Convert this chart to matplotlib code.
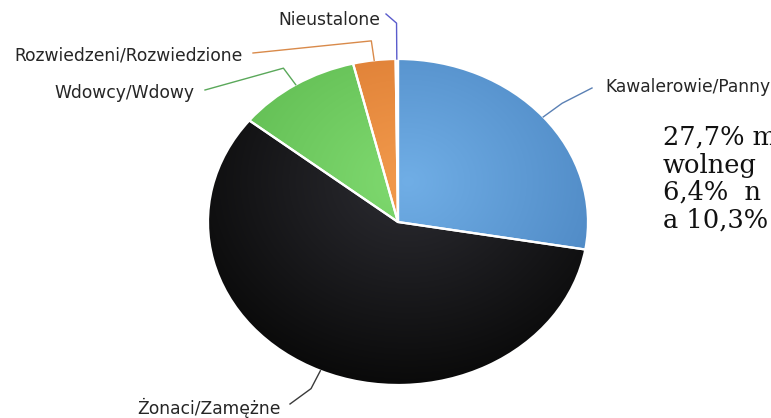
import numpy as np
import matplotlib
matplotlib.use("Agg")
import matplotlib.pyplot as plt
from matplotlib.colors import to_rgb

# data
labels = ["Kawalerowie/Panny", "Żonaci/Zamężne", "Wdowcy/Wdowy",
          "Rozwiedzeni/Rozwiedzione", "Nieustalone"]
shares = [27.7, 58.0, 10.5, 3.6, 0.2]

# light (centre) / dark (rim) shade of every slice
light = ["#70aee6", "#2c2c32", "#80da70", "#f29a4c", "#6266d8"]
dark = ["#4a84c0", "#0a0a0a", "#5cb84e", "#d8762e", "#4548b8"]
line_col = ["#5a80b4", "#3a3a3a", "#5aa85a", "#d98a4a", "#5a5ccc"]

# body text next to the chart (the picture cuts it at its right edge)
side_text = ["27,7% m", "wolneg", "6,4%  n", "a 10,3%"]

W, H = 771, 418
cx, cy = 398, 222      # pie centre, px from top-left
rx, ry = 190, 163      # half axes of the (squashed) pie, px

fig = plt.figure(figsize=(W / 100, H / 100), dpi=100)
ax = fig.add_axes([0, 0, 1, 1])
xlim = (-cx / rx, (W - cx) / rx)
ylim = (-(H - cy) / ry, cy / ry)


def px(x, y):
    # pixel (from top-left) -> data coords
    return (x - cx) / rx, (cy - y) / ry


wedges, _ = ax.pie(shares, colors=dark, startangle=90, counterclock=False,
                   radius=1, wedgeprops=dict(linewidth=0))
ax.set_aspect("auto")

# radial shading clipped to each slice
n = 400
gx, gy = np.meshgrid(np.linspace(-1, 1, n), np.linspace(1, -1, n))
hx, hy = 0.05, 0.25
dist = np.clip(np.hypot(gx - hx, gy - hy) / 1.25, 0, 1)
for w, lc, dc in zip(wedges, light, dark):
    a, b = np.array(to_rgb(lc)), np.array(to_rgb(dc))
    img = a[None, None, :] * (1 - dist[..., None]) + b[None, None, :] * dist[..., None]
    im = ax.imshow(img, extent=(-1, 1, -1, 1), aspect="auto", zorder=2,
                   interpolation="bilinear")
    im.set_clip_path(w)
    w.set_facecolor("none")
    w.set_edgecolor("white")
    w.set_linewidth(1.6)
    w.set_zorder(3)

# labels with leader lines
label_pos = [(605, 87, "left", (592, 88), 1.13),
             (281, 408, "right", (290, 404), 1.12),
             (194, 93, "right", (205, 90), 1.12),
             (243, 55, "right", (253, 53), 1.12),
             (380, 20, "right", (386, 14), 1.22)]
for w, lab, col, (tx, ty, ha, end, r2) in zip(wedges, labels, line_col, label_pos):
    mid = np.deg2rad((w.theta1 + w.theta2) / 2)
    p0 = (np.cos(mid), np.sin(mid))
    p1 = (r2 * np.cos(mid), r2 * np.sin(mid))
    p2 = px(*end)
    ax.plot([p0[0], p1[0], p2[0]], [p0[1], p1[1], p2[1]], color=col,
            lw=1.0, zorder=4, solid_joinstyle="round")
    x, y = px(tx, ty)
    ax.text(x, y, lab, ha=ha, va="center", fontsize=12.3, color="#262626",
            family="DejaVu Sans", zorder=5)

for i, line in enumerate(side_text):
    x, y = px(663, 145 + 27.5 * i)
    ax.text(x, y, line, ha="left", va="baseline", fontsize=18.5,
            family="DejaVu Serif", color="#111111", zorder=5)

ax.set_xlim(*xlim)
ax.set_ylim(*ylim)
ax.axis("off")
fig.savefig("out.png", dpi=100)
